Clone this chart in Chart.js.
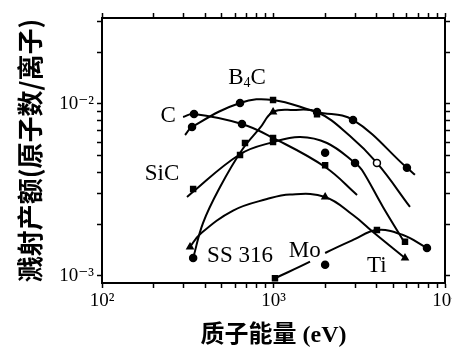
<!DOCTYPE html>
<html><head><meta charset="utf-8">
<script src="https://cdn.jsdelivr.net/npm/chart.js@4.4.1/dist/chart.umd.min.js"></script>
<style>html,body{margin:0;padding:0;background:#fff;overflow:hidden}#wrap{position:relative;width:452px;height:350px}</style>
</head><body><div id="wrap"><canvas id="c" width="452" height="350"></canvas></div>
<script>
// ---- axis ticks ----
const xLabelTicks = [100, 1000, 10000];
const xLabelText = ['10²', '10³', '10⁴'];
const xMinorTicks = [100,200,300,400,500,600,700,800,900,1000,2000,3000,4000,5000,6000,7000,8000,9000,10000];
const yLabelTicks = [0.001, 0.01];
const yLabelText = ['10⁻³', '10⁻²'];
const yMinorTicks = [0.001,0.002,0.003,0.004,0.005,0.006,0.007,0.008,0.009,0.01,0.02,0.03];

// ---- curves (energy eV, yield atoms/ion) ----
const cCurveX = [297, 344, 655, 994, 2000, 3070];
const cCurveY = [8.4e-3, 8.75e-3, 7.65e-3, 6.35e-3, 4.3e-3, 2.96e-3];
const b4cCurveX = [305, 335, 638, 994, 1794, 2909, 6000, 6680];
const b4cCurveY = [6.6e-3, 7.35e-3, 1.013e-2, 1.055e-2, 8.98e-3, 8.07e-3, 4.25e-3, 3.87e-3];
const ssCurveX = [340, 388, 488, 655, 834, 994, 1300, 1794, 2793, 4010, 6250];
const ssCurveY = [1.27e-3, 2.03e-3, 3.29e-3, 5.4e-3, 7.25e-3, 8.98e-3, 9.23e-3, 8.98e-3, 6.52e-3, 4.54e-3, 2.52e-3];
const sicCurveX = [313, 638, 994, 1428, 2050, 2988, 3281, 4348, 5845];
const sicCurveY = [2.88e-3, 5.1e-3, 6.0e-3, 6.43e-3, 5.93e-3, 4.54e-3, 4.13e-3, 2.52e-3, 1.55e-3];
const moCurveX = [326, 373, 581, 916, 1248, 2000, 2909, 3805, 5845];
const moCurveY = [1.475e-3, 1.75e-3, 2.4e-3, 2.8e-3, 2.98e-3, 2.88e-3, 2.26e-3, 1.8e-3, 1.27e-3];
const tiCurveX = [1020, 1633, 2000, 2909, 4010, 5690, 7850];
const tiCurveY = [9.7e-4, 1.21e-3, 1.36e-3, 1.62e-3, 1.85e-3, 1.73e-3, 1.455e-3];

// ---- measured points ----
const cPtX = [344, 655, 994, 2000, 2000];
const cPtY = [8.75e-3, 7.65e-3, 6.35e-3, 4.4e-3, 5.2e-3];
const b4cPtX = [335, 638, 994, 1794, 2909, 6000];
const b4cPtY = [7.35e-3, 1.013e-2, 1.055e-2, 8.98e-3, 8.07e-3, 4.25e-3];
const ssPtX = [340, 682, 994, 1794, 4010];
const ssPtY = [1.27e-3, 5.93e-3, 8.98e-3, 8.7e-3, 4.54e-3];
const sicPtX = [340, 638, 994, 2988, 5845];
const sicPtY = [3.2e-3, 5.05e-3, 6.0e-3, 4.54e-3, 1.58e-3];
const moPtX = [326, 2000, 5845];
const moPtY = [1.475e-3, 2.88e-3, 1.27e-3];
const tiPtX = [1020, 2000, 4010, 7850];
const tiPtY = [9.7e-4, 1.16e-3, 1.85e-3, 1.455e-3];

// ---- series names ----
const seriesNames = ['C', 'B4C', 'SS 316', 'SiC', 'Mo', 'Ti'];

// styles (kept apart from data)
const markerStyles = {
  'C': ['circle','circle','rect','rect','circle'],
  'B4C': ['circle','circle','rect','circle','circle','circle'],
  'SS 316': ['circle','rect','triangle','rect','circle'],
  'SiC': ['rect','rect','rect','circle','rect'],
  'Mo': ['triangle','triangle','triangle'],
  'Ti': ['rect','circle','rect','circle']
};
const markerFill = {
  'SS 316': ['#000','#000','#000','#000','#fff']
};

const zip = (xs, ys) => xs.map((x, i) => ({x, y: ys[i]}));
const curves = [
  [cCurveX, cCurveY], [b4cCurveX, b4cCurveY], [ssCurveX, ssCurveY],
  [sicCurveX, sicCurveY], [moCurveX, moCurveY], [tiCurveX, tiCurveY]
];
const points = [
  [cPtX, cPtY], [b4cPtX, b4cPtY], [ssPtX, ssPtY],
  [sicPtX, sicPtY], [moPtX, moPtY], [tiPtX, tiPtY]
];

const datasets = [];
seriesNames.forEach((name, i) => {
  const ds = {
    label: name + ' curve',
    data: zip(curves[i][0], curves[i][1]),
    showLine: true, borderColor: '#000', borderWidth: 2,
    pointRadius: 0, tension: 0.4, fill: false, order: 2
  };
  if (name === 'Ti') {
    ds.segment = { borderColor: ctx => ctx.p0DataIndex === 1 ? 'rgba(0,0,0,0)' : '#000' };
  }
  datasets.push(ds);
});
seriesNames.forEach((name, i) => {
  datasets.push({
    label: name,
    data: zip(points[i][0], points[i][1]),
    showLine: false,
    pointStyle: markerStyles[name],
    pointRadius: 3.5,
    pointBorderWidth: 1.5,
    pointBorderColor: '#000',
    pointBackgroundColor: markerFill[name] || '#000',
    order: 0
  });
});

// annotation labels (anchored in data coordinates)
const notes = [
  {parts: [['C', 0]], x: 243, y: 8.5e-3},
  {parts: [['B', 0], ['4', 1], ['C', 0]], x: 701, y: 1.42e-2},
  {parts: [['SiC', 0]], x: 224, y: 3.9e-3},
  {parts: [['SS 316', 0]], x: 638, y: 1.3e-3},
  {parts: [['Mo', 0]], x: 1520, y: 1.4e-3},
  {parts: [['Ti', 0]], x: 4000, y: 1.15e-3}
];
const noteFont = "23px 'Liberation Serif', 'Times New Roman', serif";
const noteSubFont = "14px 'Liberation Serif', 'Times New Roman', serif";

const labelPlugin = {
  id: 'notes',
  afterDatasetsDraw(chart) {
    const ctx = chart.ctx;
    const xs = chart.scales.x, ys = chart.scales.y;
    ctx.save();
    ctx.fillStyle = '#000';
    ctx.textBaseline = 'middle';
    notes.forEach(n => {
      const px = xs.getPixelForValue(n.x), py = ys.getPixelForValue(n.y);
      let w = 0;
      n.parts.forEach(([t, sub]) => { ctx.font = sub ? noteSubFont : noteFont; w += ctx.measureText(t).width; });
      let cx = px - w / 2;
      ctx.textAlign = 'left';
      n.parts.forEach(([t, sub]) => {
        ctx.font = sub ? noteSubFont : noteFont;
        ctx.fillText(t, cx, sub ? py + 6 : py);
        cx += ctx.measureText(t).width;
      });
    });
    ctx.restore();
  }
};

const setTicks = list => scale => { scale.ticks = list.map(v => ({value: v})); };
const gridOpts = {drawOnChartArea: false, drawTicks: true, tickLength: 5, tickWidth: 1.5, tickColor: '#000', color: '#000'};
const borderOpts = {display: true, color: '#000', width: 2};
const tickFont = {family: "'Liberation Serif', 'DejaVu Serif', serif", size: 19};

new Chart(document.getElementById('c'), {
  type: 'scatter',
  data: {datasets},
  plugins: [labelPlugin],
  options: {
    responsive: false, animation: false,
    layout: {padding: 0},
    plugins: {legend: {display: false}, tooltip: {enabled: false}},
    scales: {
      x: {
        type: 'logarithmic', position: 'bottom', min: 100, max: 10000,
        afterBuildTicks: setTicks(xMinorTicks),
        ticks: {autoSkip: false, maxRotation: 0, color: '#000', font: tickFont, padding: 2,
          callback: v => { const k = xLabelTicks.indexOf(v); return k >= 0 ? xLabelText[k] : ''; }},
        grid: gridOpts, border: borderOpts,
        title: {display: true, text: '质子能量 (eV)', color: '#000',
          font: {family: "'Liberation Serif', 'Noto Sans CJK SC', serif", size: 24, weight: 'bold'}, padding: {top: 0, bottom: 0}},
        afterFit: s => { s.height = 67; s.paddingLeft = 0; s.paddingRight = 0; }
      },
      x2: {
        type: 'logarithmic', position: 'top', min: 100, max: 10000,
        afterBuildTicks: setTicks(xMinorTicks),
        ticks: {display: false},
        grid: gridOpts, border: borderOpts,
        afterFit: s => { s.height = 18; s.paddingLeft = 0; s.paddingRight = 0; }
      },
      y: {
        type: 'logarithmic', position: 'left', min: 9.1e-4, max: 0.0316,
        afterBuildTicks: setTicks(yMinorTicks),
        ticks: {autoSkip: false, color: '#000', font: tickFont, padding: 3,
          callback: v => { const k = yLabelTicks.findIndex(t => Math.abs(t - v) / t < 1e-6); return k >= 0 ? yLabelText[k] : ''; }},
        grid: gridOpts, border: borderOpts,
        title: {display: true, text: '溅射产额(原子数/离子)', color: '#000',
          font: {family: "'Noto Sans CJK SC', sans-serif", size: 26, weight: 'bold'}, padding: {top: 15, bottom: 0}},
        afterFit: s => { s.width = 102; s.paddingTop = 0; s.paddingBottom = 0; }
      },
      y2: {
        type: 'logarithmic', position: 'right', min: 9.1e-4, max: 0.0316,
        afterBuildTicks: setTicks(yMinorTicks),
        ticks: {display: false},
        grid: gridOpts, border: borderOpts,
        afterFit: s => { s.width = 7; s.paddingTop = 0; s.paddingBottom = 0; }
      }
    }
  }
});
</script></body></html>
